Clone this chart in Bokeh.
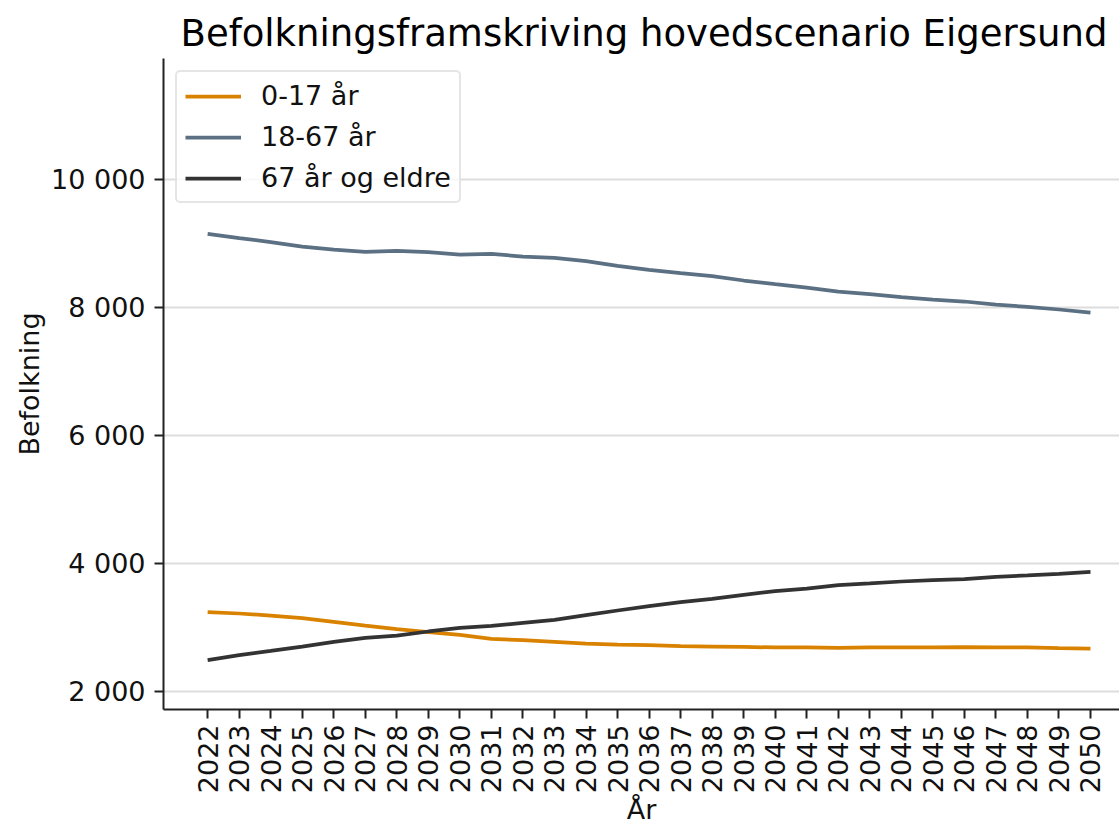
import math
from bokeh.plotting import figure
from bokeh.models import FixedTicker, Range1d, Legend, LegendItem, Title
from bokeh.embed import file_html
from bokeh.resources import INLINE

years = list(range(2022, 2051))
age_0_17 = [3240, 3219, 3187, 3146, 3089, 3031, 2974, 2927, 2885, 2823, 2802, 2776, 2750, 2734,
            2724, 2708, 2703, 2698, 2688, 2688, 2682, 2688, 2688, 2688, 2693, 2688, 2688, 2677, 2672]
age_18_67 = [9151, 9085, 9023, 8953, 8906, 8870, 8885, 8864, 8828, 8838, 8797, 8776, 8724, 8651,
             8589, 8536, 8490, 8422, 8365, 8312, 8250, 8208, 8161, 8125, 8094, 8047, 8010, 7969, 7922]
age_67_plus = [2490, 2568, 2635, 2703, 2776, 2839, 2875, 2938, 2995, 3026, 3073, 3120, 3193, 3266,
               3333, 3396, 3448, 3510, 3568, 3609, 3661, 3688, 3719, 3740, 3755, 3792, 3813, 3839, 3870]
series_names = ["0-17 år", "18-67 år", "67 år og eldre"]
series_colors = ["#d98200", "#5b7083", "#333333"]
y_ticks = [2000, 4000, 6000, 8000, 10000]
y_tick_labels = ["2 000", "4 000", "6 000", "8 000", "10 000"]
title_text = "Befolkningsframskriving hovedscenario Eigersund"

FONT = "DejaVu Sans"

p = figure(width=1119, height=828, output_backend="svg", toolbar_location=None,
           x_range=Range1d(2020.6, 2050.92), y_range=Range1d(1719, 11891),
           min_border_left=163, min_border_right=0, min_border_top=58, min_border_bottom=119)
p.title = None
p.add_layout(Title(text=title_text, text_font=FONT, text_font_size="37px", text_font_style="normal",
                   text_color="#000000", align="left", offset=17, standoff=8), "above")

renderers = []
for vals, col in zip([age_0_17, age_18_67, age_67_plus], series_colors):
    r = p.line(years, vals, line_color=col, line_width=3.75)
    renderers.append(r)

p.outline_line_color = None
p.background_fill_color = "white"
p.border_fill_color = "white"

p.xgrid.grid_line_color = None
p.ygrid.grid_line_color = "#dddddd"
p.ygrid.grid_line_width = 2

p.xaxis.ticker = FixedTicker(ticks=years)
p.xaxis.major_label_orientation = math.pi / 2
p.yaxis.ticker = FixedTicker(ticks=y_ticks)
p.yaxis.major_label_overrides = {t: l for t, l in zip(y_ticks, y_tick_labels)}

for ax in [p.xaxis[0], p.yaxis[0]]:
    ax.axis_line_width = 2
    ax.axis_line_color = "#222222"
    ax.major_tick_line_width = 2
    ax.major_tick_line_color = "#222222"
    ax.major_tick_out = 9
    ax.major_tick_in = 0
    ax.minor_tick_line_color = None
    ax.major_label_text_font = FONT
    ax.major_label_text_font_size = "27px"
    ax.major_label_text_color = "#111111"
    ax.major_label_standoff = 9
    ax.axis_label_text_font = FONT
    ax.axis_label_text_font_size = "27px"
    ax.axis_label_text_font_style = "normal"
    ax.axis_label_text_color = "#111111"

p.xaxis.major_label_standoff = 6
p.xaxis.axis_label = "År"
p.xaxis.axis_label_standoff = -2
p.yaxis.axis_label = "Befolkning"
p.yaxis.axis_label_standoff = 3

legend = Legend(items=[LegendItem(label=n, renderers=[r]) for n, r in zip(series_names, renderers)],
                location="top_left")
legend.margin = 12
legend.padding = 8
legend.spacing = 10
legend.glyph_width = 56
legend.glyph_height = 30
legend.label_height = 30
legend.label_standoff = 20
legend.label_text_font = FONT
legend.label_text_font_size = "27px"
legend.label_text_color = "#111111"
legend.border_line_color = "#cccccc"
legend.border_line_width = 2
legend.border_radius = 5
legend.background_fill_alpha = 0.8
p.add_layout(legend, "center")

open("out.html", "w").write(file_html(p, INLINE))
